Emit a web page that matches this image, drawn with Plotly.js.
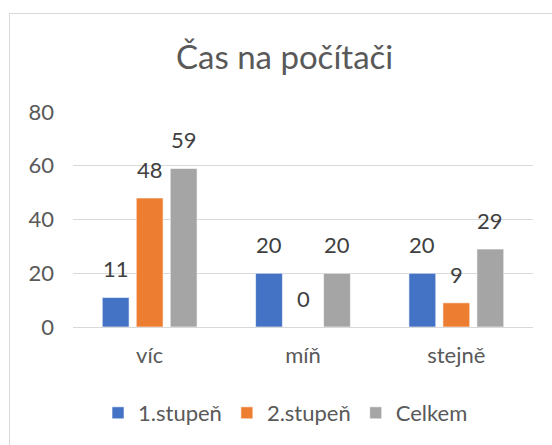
<!DOCTYPE html>
<html>
<head>
<meta charset="utf-8">
<script src="https://cdn.plot.ly/plotly-3.0.1.min.js"></script>
<style>
html,body{margin:0;padding:0;background:#fff;overflow:hidden;}
#wrap{position:relative;width:552px;height:445px;}
#chart{position:absolute;left:0;top:0;width:552px;height:445px;}
#frame{position:absolute;left:9px;top:13px;width:600px;height:500px;border:1px solid #d9d9d9;pointer-events:none;}
</style>
</head>
<body>
<div id="wrap"><div id="chart"></div><div id="frame"></div></div>
<script>
const categories = ["víc", "míň", "stejně"];
const seriesNames = ["1.stupeň", "2.stupeň", "Celkem"];
const stupen1 = [11, 20, 20];
const stupen2 = [48, 0, 9];
const celkem = [59, 20, 29];
const yTicks = [0, 20, 40, 60, 80];

const colors = ["#4472C4", "#ED7D31", "#A5A5A5"];
const seriesValues = [stupen1, stupen2, celkem];
const FONT = "Lato, 'Open Sans', sans-serif";

const traces = seriesValues.map((vals, i) => ({
  type: "bar",
  name: seriesNames[i],
  x: categories,
  y: vals,
  marker: {color: colors[i], line: {color: "rgba(255,255,255,0.6)", width: 1}},
  hoverinfo: "none"
}));

// data labels as annotations, offset per series within the group
const plotW = 552 - 73 - 19;
const catW = plotW / categories.length;
const bargap = 0.335;
const slot = catW * (1 - bargap) / seriesValues.length;
const annotations = [];
seriesValues.forEach((vals, i) => {
  vals.forEach((v, j) => {
    annotations.push({
      x: categories[j], y: v, xref: "x", yref: "y",
      text: String(v), showarrow: false,
      xanchor: "center", yanchor: "bottom",
      xshift: (i - 1) * slot, yshift: 13,
      font: {family: FONT, size: 22, color: "#404040"}
    });
  });
});

const layout = {
  width: 552, height: 445,
  margin: {l: 73, r: 19, t: 112, b: 117},
  paper_bgcolor: "#fff", plot_bgcolor: "#fff",
  barmode: "group", bargap: bargap, bargroupgap: 0.21,
  title: {
    text: "Čas na počítači",
    font: {family: FONT, size: 33, color: "#595959"},
    x: 0.46, xref: "paper", xanchor: "center",
    y: 1 - 57 / 445, yref: "container", yanchor: "middle"
  },
  xaxis: {
    type: "category",
    showgrid: false, zeroline: false, showline: false, ticks: "",
    ticklabelstandoff: 13,
    tickfont: {family: FONT, size: 22, color: "#595959"},
    fixedrange: true
  },
  yaxis: {
    range: [0, 80], tickvals: yTicks, ticktext: yTicks.map(String),
    showgrid: true, gridcolor: "#d9d9d9", gridwidth: 1,
    zeroline: true, zerolinecolor: "#d9d9d9", zerolinewidth: 1,
    showline: false, ticks: "",
    ticklabelstandoff: 18,
    tickfont: {family: FONT, size: 22, color: "#595959"},
    fixedrange: true
  },
  showlegend: true,
  legend: {
    orientation: "h", x: 0.462, xanchor: "center",
    y: -(413 - 328) / 216, yanchor: "middle",
    font: {family: FONT, size: 22, color: "#595959"},
    itemclick: false, itemdoubleclick: false,
    traceorder: "normal"
  },
  annotations: annotations
};

Plotly.newPlot("chart", traces, layout, {displayModeBar: false, staticPlot: true});
</script>
</body>
</html>
